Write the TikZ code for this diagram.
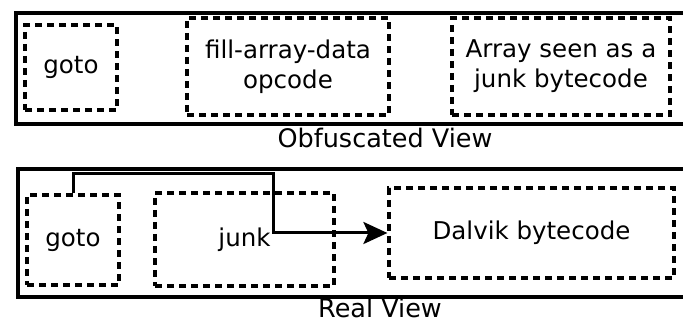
\documentclass[tikz,border=0pt]{standalone}
\usepackage{fontspec}
\setmainfont{DejaVu Sans}
\usepackage{tikz}
\usetikzlibrary{arrows.meta,positioning}

\begin{document}
\begin{tikzpicture}[
  x=1pt,y=-1pt,
  frame/.style={draw,line width=3.6pt,anchor=north west,inner sep=0pt},
  blk/.style={draw,line width=3.2pt,dash pattern=on 7pt off 5pt,align=center,
    font=\fontsize{24.5}{30}\selectfont,inner sep=0pt},
  caption/.style={font=\fontsize{25.5}{30}\selectfont,inner sep=0pt,
    text height=19pt,text depth=0pt,anchor=base},
  arr/.style={-{Stealth[length=24pt,width=22pt,inset=5pt]},line width=3pt}
]
\useasboundingbox (0,0) rectangle (683,323);
\clip (0,0) rectangle (683,323);
% obfuscated view
\node[frame,minimum width=690pt,minimum height=111pt] (obf) at (14,11) {};
\node[blk,minimum width=92pt,minimum height=85pt] (goto1) at (71,67.5) {goto};
\node[blk,minimum width=202pt,minimum height=97pt] (fad) at (288,66.5) {fill-array-data\\opcode};
\node[blk,minimum width=218pt,minimum height=97pt] (junkarr) at (561,66.5) {Array seen as a\\junk bytecode};
\node[caption] (obflabel) at (385,148) {Obfuscated View};
% real view
\node[frame,minimum width=690pt,minimum height=128pt] (real) at (16,167) {};
\node[blk,minimum width=92pt,minimum height=90pt] (goto2) at (73,240) {goto};
\node[blk,minimum width=179pt,minimum height=93pt] (junk) at (244.5,239.5) {junk};
\node[blk,minimum width=285pt,minimum height=90pt] (dalvik) at (531.5,233) {Dalvik bytecode};
\node[caption] (reallabel) at (380,317) {Real View};
\coordinate (hop) at (273,174);
\draw[arr] (goto2.north) |- (hop) |- (dalvik.west);
\end{tikzpicture}
\end{document}
